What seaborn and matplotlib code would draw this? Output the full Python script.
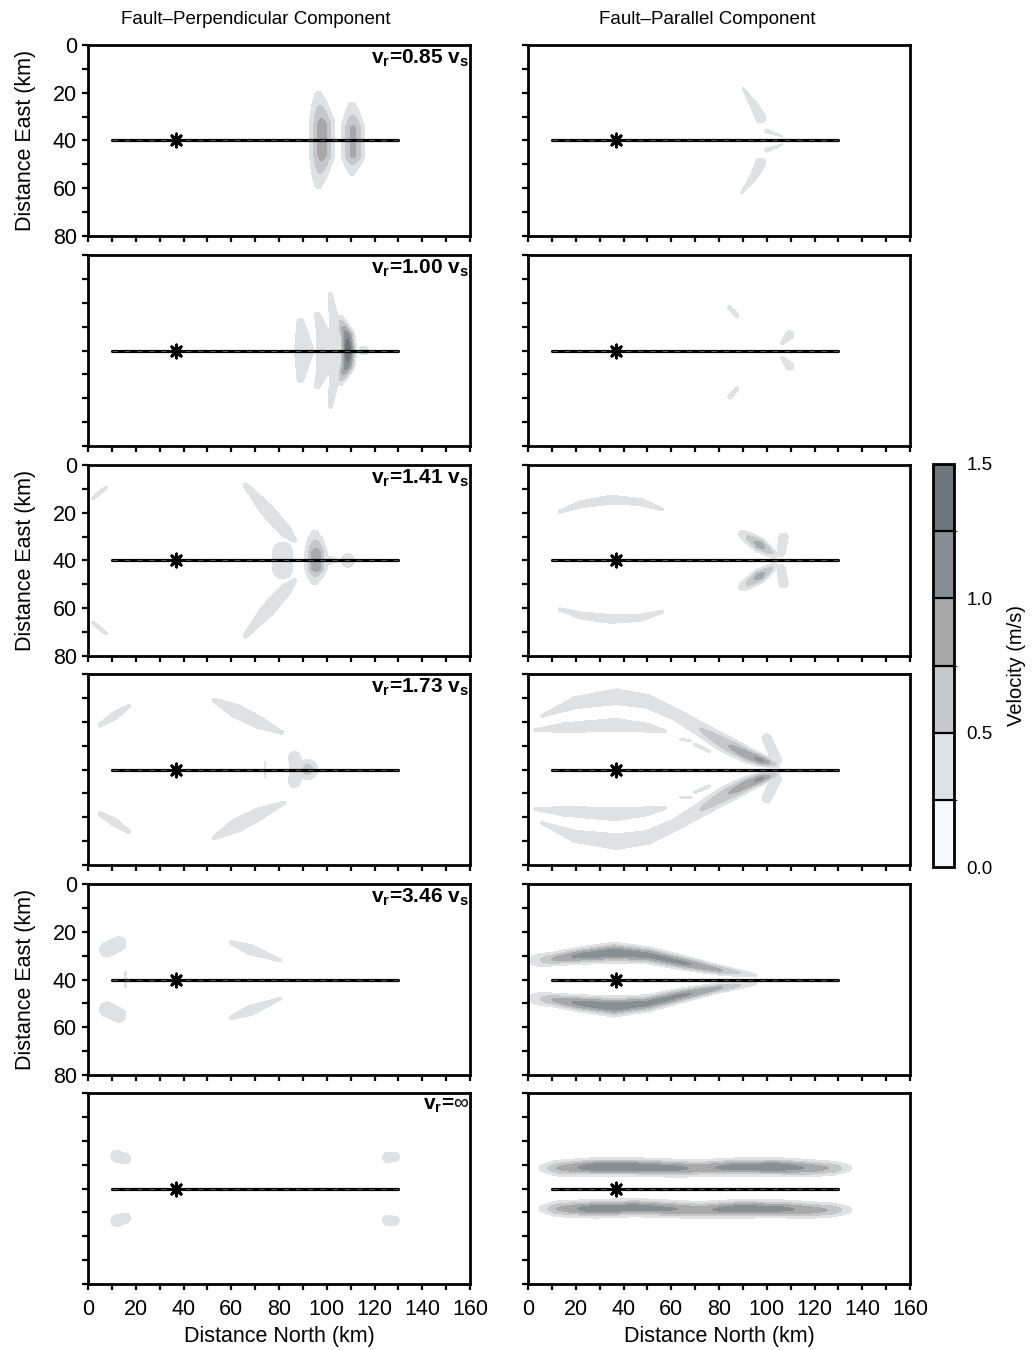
"""Ground-velocity snapshots for several rupture speeds: fault-perpendicular vs fault-parallel component."""

import numpy as np
import matplotlib
matplotlib.use("Agg")
import matplotlib.pyplot as plt
from matplotlib.colors import ListedColormap, BoundaryNorm
from matplotlib.cm import ScalarMappable
from matplotlib.ticker import MultipleLocator, NullFormatter
import seaborn as sns

# Velocity patches. Each patch is a ridge through
# (north km, east km, peak velocity m/s, half-width km) vertices.
PERP_085 = [
    [(96.5, 21, 0.30, 2.6), (98, 33, 0.85, 3.4), (98, 46, 0.85, 3.4), (96.5, 58.5, 0.30, 2.6)],
    [(110.5, 25.5, 0.30, 2.6), (111, 35, 0.80, 3.2), (111, 46, 0.80, 3.2), (110.5, 53, 0.30, 2.6)],
]
PARA_085 = [
    [(90, 18, 0.27, 0.8), (94.5, 25, 0.40, 1.6), (97.5, 30.5, 0.40, 2.2)],
    [(100, 36, 0.38, 0.9), (106.5, 38.3, 0.28, 0.6)],
    [(100, 44, 0.38, 0.9), (106.5, 41.7, 0.28, 0.6)],
    [(97.5, 49.5, 0.40, 2.2), (94.5, 55, 0.40, 1.6), (89.5, 62, 0.27, 0.8)],
]
PERP_100 = [
    [(101.5, 16.5, 0.30, 1.3), (103, 27, 0.45, 1.8), (104.5, 40, 0.50, 2.0), (103, 53, 0.45, 1.8), (101.5, 63.5, 0.30, 1.3)],
    [(105.5, 27, 0.45, 1.6), (108.5, 34, 1.20, 1.9), (109, 40, 1.45, 1.9), (108.5, 46, 1.20, 1.9), (105.5, 53, 0.45, 1.6)],
    [(96, 25, 0.30, 1.8), (98.5, 33, 0.45, 2.6), (99, 40, 0.45, 3.0), (98.5, 48, 0.45, 2.6), (96, 55, 0.30, 1.8)],
    [(89, 28, 0.30, 2.4), (90.5, 40, 0.45, 3.8), (89, 52, 0.30, 2.4)],
    [(115.5, 40, 0.35, 2.3)],
]
PARA_100 = [
    [(84.5, 22, 0.33, 1.1), (87.5, 25.5, 0.33, 1.1)],
    [(106.5, 36.8, 0.30, 1.0), (109.5, 33.5, 0.40, 1.8)],
    [(106.5, 43.2, 0.30, 1.0), (109.5, 46.5, 0.40, 1.8)],
    [(87.5, 56, 0.33, 1.1), (84.5, 59.5, 0.33, 1.1)],
]
PERP_141 = [
    [(2, 14, 0.30, 1.1), (7.5, 9.5, 0.30, 1.1)],
    [(2, 66, 0.30, 1.1), (7.5, 70.5, 0.30, 1.1)],
    [(66, 8.5, 0.30, 1.6), (75, 19, 0.45, 2.6), (83, 28, 0.42, 2.4), (86.5, 31.5, 0.30, 1.4)],
    [(86.5, 48.5, 0.30, 1.4), (83, 52, 0.42, 2.4), (75, 61, 0.45, 2.6), (66, 71.5, 0.30, 1.6)],
    [(81.5, 36.5, 0.45, 3.8), (81.5, 43.5, 0.45, 3.8)],
    [(95, 29, 0.30, 2.8), (95.5, 37.5, 0.95, 2.9), (95.5, 42.5, 0.95, 2.9), (95, 48.5, 0.30, 2.8)],
    [(96, 40, 0.50, 2.2), (103, 40, 0.32, 1.6)],
    [(108.8, 40, 0.35, 3.4)],
]
PARA_141 = [
    [(13.5, 19.5, 0.30, 1.1), (22, 16.5, 0.38, 1.6), (35, 14.5, 0.40, 1.9), (47, 15.5, 0.38, 1.6), (56, 18.5, 0.30, 1.1)],
    [(13.5, 60.5, 0.30, 1.1), (22, 63, 0.38, 1.6), (35, 64.5, 0.40, 1.9), (47, 64, 0.38, 1.6), (56, 61.5, 0.30, 1.1)],
    [(90, 29, 0.40, 1.8), (97, 33.5, 0.90, 1.9), (103, 37.5, 0.45, 1.4)],
    [(90, 51, 0.40, 1.8), (97, 46.5, 0.90, 1.9), (103, 42.5, 0.45, 1.4)],
    [(107, 30.5, 0.36, 2.3), (106, 36.5, 0.36, 2.0)],
    [(107, 49.5, 0.36, 2.3), (106, 43.5, 0.36, 2.0)],
]
PERP_173 = [
    [(5, 21.5, 0.30, 1.3), (11, 17.5, 0.38, 1.8), (17, 13.5, 0.30, 1.2)],
    [(5, 58.5, 0.30, 1.3), (11, 62, 0.38, 1.8), (17, 66, 0.30, 1.2)],
    [(53, 11, 0.30, 1.5), (62, 15.5, 0.42, 2.8), (72, 20.5, 0.40, 2.6), (81, 24.5, 0.30, 1.2)],
    [(82, 54, 0.30, 1.2), (72, 58.5, 0.40, 2.6), (62, 63.5, 0.42, 2.8), (53, 68.5, 0.30, 1.5)],
    [(86.5, 35, 0.40, 2.6), (87.5, 40, 0.42, 2.8), (86.5, 45, 0.40, 2.6)],
    [(92, 40, 0.62, 3.1)],
    [(74.2, 37, 0.28, 0.6), (74.2, 43, 0.28, 0.6)],
]
PARA_173 = [
    [(6, 17.5, 0.30, 1.0), (20, 12, 0.40, 2.6), (37, 9.5, 0.42, 3.2), (50, 11.5, 0.42, 2.8), (62, 17, 0.42, 2.4),
     (72, 23, 0.50, 2.4), (82, 29, 0.70, 2.5), (92, 34, 0.95, 2.0), (98, 36.3, 1.05, 1.5), (104, 38, 0.50, 1.1)],
    [(3, 23.5, 0.30, 1.0), (15, 22.5, 0.38, 2.2), (37, 21.3, 0.40, 2.8), (50, 22.5, 0.38, 2.0), (57.5, 24, 0.30, 1.0)],
    [(64, 27.3, 0.30, 0.7), (68, 28, 0.30, 0.7)],
    [(70, 29.5, 0.30, 0.9), (76, 32.5, 0.30, 0.9)],
    [(100, 27, 0.36, 2.2), (104, 36, 0.40, 2.2)],
    [(6, 62.5, 0.30, 1.0), (20, 68, 0.40, 2.6), (37, 70.2, 0.42, 3.2), (50, 68.5, 0.42, 2.8), (62, 63, 0.42, 2.4),
     (72, 57, 0.50, 2.4), (82, 51, 0.70, 2.5), (92, 46, 0.95, 2.0), (98, 43.7, 1.05, 1.5), (104, 42, 0.50, 1.1)],
    [(3, 56.5, 0.30, 1.0), (15, 57.5, 0.38, 2.2), (37, 58.7, 0.40, 2.8), (50, 57.5, 0.38, 2.0), (57.5, 56, 0.30, 1.0)],
    [(64, 51.7, 0.30, 0.7), (68, 51.7, 0.30, 0.7)],
    [(70, 49.5, 0.30, 0.9), (76, 47, 0.30, 0.9)],
    [(100, 52, 0.36, 2.2), (104, 44, 0.40, 2.2)],
]
PERP_346 = [
    [(8, 27.5, 0.40, 3.2), (13, 25, 0.40, 3.0)],
    [(8, 52.5, 0.40, 3.2), (13, 55, 0.40, 3.0)],
    [(15.8, 37, 0.28, 0.8), (15.8, 43, 0.28, 0.8)],
    [(60, 24.5, 0.30, 1.3), (68, 27.5, 0.42, 2.1), (80.5, 32, 0.30, 1.0)],
    [(80.5, 48, 0.30, 1.0), (68, 53, 0.42, 2.1), (60, 56, 0.30, 1.3)],
]
PARA_346 = [
    [(3, 32, 0.38, 2.4), (10, 31.5, 0.75, 1.9), (22, 30, 1.10, 2.1), (36, 28.8, 1.20, 2.5), (50, 29.8, 1.10, 2.1),
     (65, 33, 1.05, 1.8), (80, 36, 0.80, 1.4), (95, 38.3, 0.30, 1.0)],
    [(3, 48, 0.38, 2.4), (10, 48.5, 0.75, 1.9), (22, 50, 1.10, 2.1), (36, 51.3, 1.20, 2.5), (50, 50, 1.10, 2.1),
     (65, 46.5, 1.05, 1.8), (80, 43.5, 0.80, 1.4), (95, 41.7, 0.30, 1.0)],
]
PERP_INF = [
    [(12, 26.5, 0.40, 2.5), (15.5, 27.5, 0.40, 2.3)],
    [(12, 53.5, 0.40, 2.5), (15.5, 52.5, 0.40, 2.3)],
    [(125.5, 27, 0.38, 2.3), (128.5, 26.8, 0.38, 2.1)],
    [(125.5, 53.3, 0.38, 2.2), (128.5, 53.5, 0.38, 2.0)],
]
PARA_INF = [
    [(6, 31.5, 0.35, 1.7), (12, 31.5, 0.75, 2.2), (28, 31, 1.20, 2.2), (45, 31, 1.20, 2.2), (62, 31.5, 1.10, 2.2),
     (72, 31.5, 0.90, 2.2), (88, 31, 1.15, 2.2), (105, 31, 1.20, 2.2), (118, 31.5, 0.95, 2.2), (128, 31.5, 0.70, 2.0),
     (134, 31.5, 0.35, 1.7)],
    [(6, 48.5, 0.35, 1.7), (12, 48.5, 0.75, 2.2), (28, 48.5, 1.20, 2.2), (45, 48, 1.15, 2.2), (58, 48.5, 1.05, 2.2),
     (72, 49, 0.90, 2.2), (88, 48.5, 1.20, 2.2), (105, 48.5, 1.10, 2.2), (118, 49, 0.90, 2.2), (128, 49, 0.70, 2.0),
     (134, 49, 0.35, 1.7)],
]

PANEL_LABELS = [r"$\mathbf{v_r}$=0.85 $\mathbf{v_s}$", r"$\mathbf{v_r}$=1.00 $\mathbf{v_s}$",
                r"$\mathbf{v_r}$=1.41 $\mathbf{v_s}$", r"$\mathbf{v_r}$=1.73 $\mathbf{v_s}$",
                r"$\mathbf{v_r}$=3.46 $\mathbf{v_s}$", r"$\mathbf{v_r}$=$\infty$"]
PERP_PANELS = [PERP_085, PERP_100, PERP_141, PERP_173, PERP_346, PERP_INF]
PARA_PANELS = [PARA_085, PARA_100, PARA_141, PARA_173, PARA_346, PARA_INF]
COLUMN_TITLES = ["Fault\u2013Perpendicular Component", "Fault\u2013Parallel Component"]

FAULT_NORTH = [10, 130]
FAULT_EAST = [40, 40]
EPICENTER = (37, 40)

LEVELS = [0.0, 0.25, 0.5, 0.75, 1.0, 1.25, 1.5]
LEVEL_COLORS = ["#f4f9fc", "#dfe2e5", "#c6c7c9", "#a8a8a8", "#858f94", "#6d767a"]


def _field(strokes, X, Y):
    """Max over ridges of a Gaussian profile around each polyline."""
    out = np.zeros_like(X)
    for stroke in strokes:
        pts = np.array(stroke, float)
        if len(pts) == 1:
            pts = np.vstack([pts, pts])
        for (x0, y0, a0, w0), (x1, y1, a1, w1) in zip(pts[:-1], pts[1:]):
            dx, dy = x1 - x0, y1 - y0
            L2 = dx * dx + dy * dy
            if L2 > 0:
                t = np.clip(((X - x0) * dx + (Y - y0) * dy) / L2, 0, 1)
            else:
                t = np.zeros_like(X)
            d2 = (X - x0 - t * dx) ** 2 + (Y - y0 - t * dy) ** 2
            a = a0 + t * (a1 - a0)
            w = w0 + t * (w1 - w0)
            out = np.maximum(out, a * np.exp(-0.5 * d2 / w ** 2))
    return out


sns.set_style("ticks", {"axes.edgecolor": "black", "xtick.color": "black", "ytick.color": "black",
                        "text.color": "black", "axes.labelcolor": "black"})
plt.rcParams["font.family"] = ["Liberation Sans", "DejaVu Sans"]
plt.rcParams["mathtext.fontset"] = "custom"
plt.rcParams["mathtext.rm"] = "Liberation Sans"
plt.rcParams["mathtext.bf"] = "Liberation Sans:bold"

W, H = 1032, 1350
fig = plt.figure(figsize=(W / 100, H / 100), dpi=100)

xg = np.linspace(0, 160, 641)
yg = np.linspace(0, 80, 321)
X, Y = np.meshgrid(xg, yg)

row_tops = [45, 255, 465, 674, 884, 1093]
col_lefts = [88, 528]
ax_w, ax_h = 382, 191

for r in range(6):
    for c in range(2):
        ax = fig.add_axes([col_lefts[c] / W, 1 - (row_tops[r] + ax_h) / H, ax_w / W, ax_h / H])
        strokes = PERP_PANELS[r] if c == 0 else PARA_PANELS[r]
        Z = _field(strokes, X, Y)
        ax.contourf(X, Y, Z, levels=LEVELS[1:], colors=LEVEL_COLORS[1:])

        sns.lineplot(x=FAULT_NORTH, y=FAULT_EAST, ax=ax, color="black", lw=2.3)
        ax.plot(FAULT_NORTH, FAULT_EAST, color="#505050", lw=0.8, dashes=(5, 6))
        sns.scatterplot(x=[EPICENTER[0]], y=[EPICENTER[1]], ax=ax, marker=(8, 2, 0), s=90,
                        color="black", edgecolor="black", linewidth=2.0, zorder=5)

        ax.set_xlim(0, 160)
        ax.set_ylim(80, 0)
        ax.xaxis.set_major_locator(MultipleLocator(20))
        ax.xaxis.set_minor_locator(MultipleLocator(10))
        ax.yaxis.set_major_locator(MultipleLocator(20))
        ax.yaxis.set_minor_locator(MultipleLocator(10))
        ax.tick_params(which="both", direction="out", length=4, width=1.6, labelsize=15.5,
                       pad=4, colors="black")
        ax.tick_params(axis="x", pad=7)
        for sp in ax.spines.values():
            sp.set_linewidth(2.0)
            sp.set_color("black")
        ax.set_xlabel("")
        ax.set_ylabel("")

        if r < 5:
            ax.xaxis.set_major_formatter(NullFormatter())
        else:
            ax.set_xlabel("Distance North (km)", fontsize=15.5, labelpad=4)
        if c == 1 or r % 2 == 1:
            ax.yaxis.set_major_formatter(NullFormatter())
        else:
            ax.set_ylabel("Distance East (km)", fontsize=15.5, labelpad=12)

        if c == 0:
            ax.text(0.997, 0.985, PANEL_LABELS[r], transform=ax.transAxes, ha="right", va="top",
                    fontsize=15, fontweight="bold")

fig.text(256 / W, 1 - 20 / H, COLUMN_TITLES[0], ha="center", va="center", fontsize=13.5)
fig.text(707 / W, 1 - 20 / H, COLUMN_TITLES[1], ha="center", va="center", fontsize=13.5)

# Discrete colour bar
cax = fig.add_axes([933 / W, 1 - 867 / H, 21 / W, 403 / H])
cmap = ListedColormap(LEVEL_COLORS)
norm = BoundaryNorm(LEVELS, cmap.N)
cbar = fig.colorbar(ScalarMappable(norm=norm, cmap=cmap), cax=cax, ticks=[0, 0.5, 1.0, 1.5],
                    drawedges=True)
cbar.ax.set_yticklabels(["0.0", "0.5", "1.0", "1.5"])
cbar.ax.tick_params(length=0, labelsize=13.5, pad=9)
cbar.outline.set_linewidth(2.0)
cbar.outline.set_edgecolor("black")
cbar.dividers.set_linewidth(1.6)
cbar.dividers.set_color("black")
cbar.set_label("Velocity (m/s)", fontsize=14.5, labelpad=10)

fig.savefig("out.png", dpi=100)
